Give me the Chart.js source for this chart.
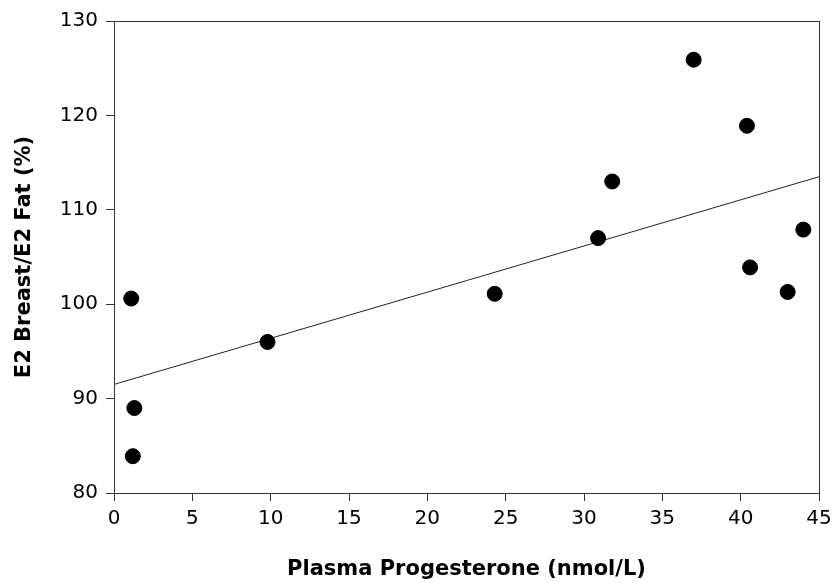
<!DOCTYPE html>
<html>
<head>
<meta charset="utf-8">
<script src="https://cdn.jsdelivr.net/npm/chart.js@4"></script>
<style>
  html, body { margin: 0; padding: 0; background: #fff; }
  #wrap { width: 833px; height: 583px; }
</style>
</head>
<body>
<div id="wrap"><canvas id="grafico"></canvas></div>
<script>
// valores
let progesterona = [1.1, 1.3, 1.2, 9.8, 24.3, 30.9, 31.8, 37.0, 40.4, 40.6, 43.0, 44.0];
let razaoE2 = [100.6, 89.0, 83.9, 96.0, 101.1, 107.0, 113.0, 125.9, 118.9, 103.9, 101.3, 107.9];

// reta de regressão (extremos)
let retaX = [0, 45];
let retaY = [91.5, 113.5];

let ticksX = [0, 5, 10, 15, 20, 25, 30, 35, 40, 45];
let ticksY = [80, 90, 100, 110, 120, 130];

const fonte = "'DejaVu Sans', Verdana, sans-serif";

// moldura em volta da área do gráfico
const moldura = {
    id: 'moldura',
    afterDatasetsDraw(chart) {
        const a = chart.chartArea;
        const ctx = chart.ctx;
        ctx.save();
        ctx.strokeStyle = '#333';
        ctx.lineWidth = 1;
        ctx.strokeRect(Math.round(a.left) + 0.5, Math.round(a.top) + 0.5,
            Math.round(a.right - a.left), Math.round(a.bottom - a.top));
        ctx.restore();
    }
};

new Chart(document.getElementById('grafico'), {
    type: 'scatter',
    data: {
        datasets: [{
            data: progesterona.map((x, i) => ({ x: x, y: razaoE2[i] })),
            backgroundColor: '#000',
            borderColor: '#000',
            pointRadius: 7.5,
            pointHoverRadius: 7.5
        }, {
            data: retaX.map((x, i) => ({ x: x, y: retaY[i] })),
            showLine: true,
            borderColor: '#222',
            borderWidth: 1,
            pointRadius: 0,
            fill: false
        }]
    },
    options: {
        responsive: true,
        maintainAspectRatio: false,
        animation: false,
        layout: { padding: { top: 21, right: 14, left: 0, bottom: 0 } },
        plugins: {
            legend: { display: false },
            tooltip: { enabled: false }
        },
        scales: {
            x: {
                type: 'linear',
                min: 0,
                max: 45,
                afterBuildTicks: s => { s.ticks = ticksX.map(v => ({ value: v })); },
                afterFit: s => { s.height = 90; s.paddingRight = 0; s.paddingLeft = 0; },
                grid: { drawOnChartArea: false, tickLength: 8, color: '#333' },
                border: { color: '#333' },
                ticks: { color: '#000', padding: 6, font: { family: fonte, size: 20 } },
                title: {
                    display: true,
                    text: 'Plasma Progesterone (nmol/L)',
                    color: '#000',
                    font: { family: fonte, size: 21, weight: 'bold' },
                    padding: { top: 22, bottom: 1 }
                }
            },
            y: {
                min: 80,
                max: 130,
                afterBuildTicks: s => { s.ticks = ticksY.map(v => ({ value: v })); },
                afterFit: s => { s.width = 114; s.paddingTop = 0; s.paddingBottom = 0; },
                grid: { drawOnChartArea: false, tickLength: 8, color: '#333' },
                border: { color: '#333' },
                ticks: { color: '#000', padding: 8, font: { family: fonte, size: 20 } },
                title: {
                    display: true,
                    text: 'E2 Breast/E2 Fat (%)',
                    color: '#000',
                    font: { family: fonte, size: 21, weight: 'bold' },
                    padding: { top: 12, bottom: 14 }
                }
            }
        }
    },
    plugins: [moldura]
});
</script>
</body>
</html>
